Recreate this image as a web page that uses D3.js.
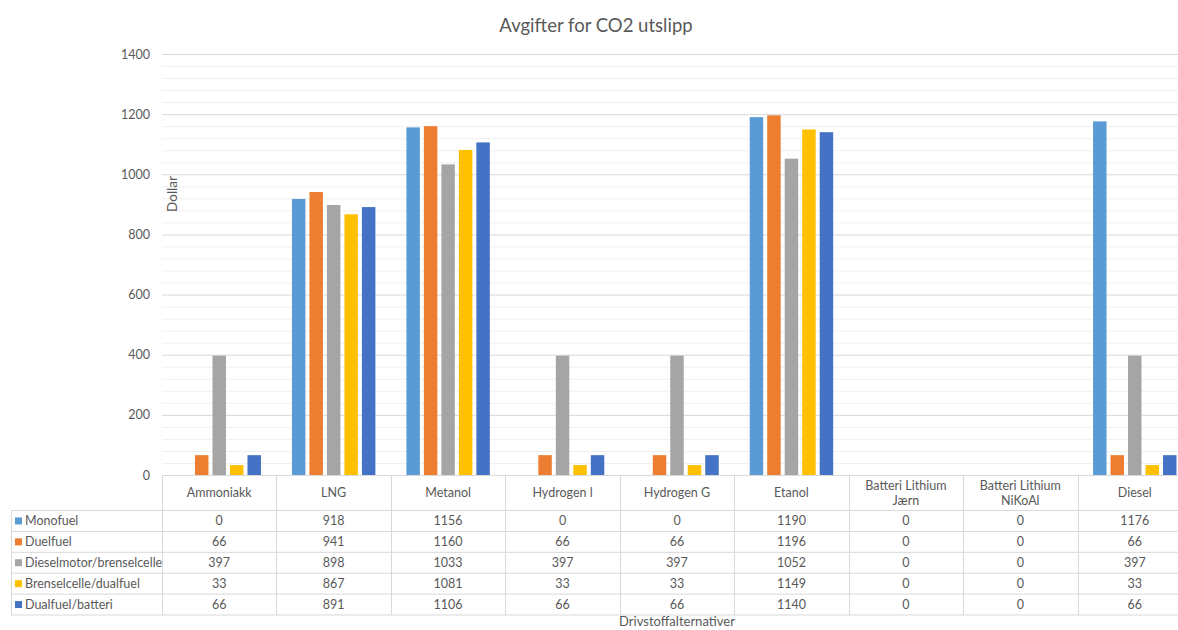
<!DOCTYPE html>
<html>
<head>
<meta charset="utf-8">
<script src="https://cdn.jsdelivr.net/npm/d3@7"></script>
<style>
  html, body { margin: 0; padding: 0; background: #fff; }
  svg { display: block; font-family: Lato, "Open Sans", sans-serif; }
</style>
</head>
<body>
<svg id="chart" width="1178" height="630"></svg>
<script>
// Fuel alternatives (x categories); "\n" splits a header label over two lines
const categories = ["Ammoniakk", "LNG", "Metanol", "Hydrogen l", "Hydrogen G", "Etanol",
                    "Batteri Lithium\nJærn", "Batteri Lithium\nNiKoAl", "Diesel"];
const seriesNames = ["Monofuel", "Duelfuel", "Dieselmotor/brenselcelle", "Brenselcelle/dualfuel", "Dualfuel/batteri"];
const monofuel   = [0, 918, 1156, 0, 0, 1190, 0, 0, 1176];
const duelfuel   = [66, 941, 1160, 66, 66, 1196, 0, 0, 66];
const dieselBren = [397, 898, 1033, 397, 397, 1052, 0, 0, 397];
const brenDual   = [33, 867, 1081, 33, 33, 1149, 0, 0, 33];
const dualBatt   = [66, 891, 1106, 66, 66, 1140, 0, 0, 66];
const seriesValues = [monofuel, duelfuel, dieselBren, brenDual, dualBatt];
const colors = ["#5B9BD5", "#ED7D31", "#A5A5A5", "#FFC000", "#4472C4"];
const yTicks = [0, 200, 400, 600, 800, 1000, 1200, 1400];

const svg = d3.select("#chart");
const textColor = "#595959";
const plot = { left: 162, right: 1192, top: 54, bottom: 475 };

const x = d3.scaleBand().domain(categories).range([plot.left, plot.right]).padding(0);
const inner = d3.scaleBand().domain(d3.range(seriesNames.length))
  .range([15.5, x.bandwidth() - 15.5]).paddingInner(0.23).paddingOuter(0);
const y = d3.scaleLinear().domain([0, 1400]).range([plot.bottom, plot.top]);

// Title
svg.append("text").attr("x", 596).attr("y", 32).attr("text-anchor", "middle")
  .attr("font-size", 18.5).attr("fill", textColor).text("Avgifter for CO2 utslipp");

// Minor and major gridlines
const minor = d3.range(40, 1400, 40).filter(v => v % 200 !== 0);
svg.append("g").selectAll("line").data(minor).join("line")
  .attr("x1", plot.left).attr("x2", 1178)
  .attr("y1", d => y(d) + 0.5).attr("y2", d => y(d) + 0.5)
  .attr("stroke", "#f0f0f0");
svg.append("g").selectAll("line").data(yTicks.filter(v => v > 0)).join("line")
  .attr("x1", plot.left).attr("x2", 1178)
  .attr("y1", d => y(d) + 0.5).attr("y2", d => y(d) + 0.5)
  .attr("stroke", "#d9d9d9");

// Y axis labels
const yAxis = svg.append("g").attr("transform", `translate(${plot.left - 12},0)`)
  .call(d3.axisLeft(y).tickValues(yTicks).tickFormat(d3.format("d")).tickSize(0).tickPadding(0));
yAxis.select(".domain").remove();
yAxis.selectAll("text").attr("fill", textColor).attr("font-size", 12.5)
  .attr("font-family", "Lato, sans-serif");

// Y axis title
svg.append("text").attr("transform", "translate(177,194) rotate(-90)")
  .attr("text-anchor", "middle").attr("font-size", 13.5).attr("fill", textColor).text("Dollar");

// Bars
const groups = svg.append("g").selectAll("g").data(categories).join("g")
  .attr("transform", d => `translate(${x(d)},0)`);
groups.selectAll("rect")
  .data((c, ci) => seriesValues.map((vals, si) => ({ si, v: vals[ci] })))
  .join("rect")
  .attr("x", d => inner(d.si))
  .attr("width", inner.bandwidth())
  .attr("y", d => y(d.v))
  .attr("height", d => y(0) - y(d.v))
  .attr("fill", d => colors[d.si]);

// Data table below the plot
const grid = "#d9d9d9";
const headerBottom = 510.5;
const rowH = 20.9;
const tableLeft = 11;
const tableBottom = headerBottom + rowH * seriesNames.length;
const tbl = svg.append("g");

// horizontal rules
tbl.append("line").attr("x1", plot.left).attr("x2", 1178)
  .attr("y1", plot.bottom + 0.5).attr("y2", plot.bottom + 0.5).attr("stroke", grid);
d3.range(seriesNames.length + 1).forEach(i => {
  const yy = headerBottom + i * rowH;
  tbl.append("line").attr("x1", tableLeft).attr("x2", 1178)
    .attr("y1", yy).attr("y2", yy).attr("stroke", grid);
});
// vertical rules
tbl.append("line").attr("x1", tableLeft + 0.5).attr("x2", tableLeft + 0.5)
  .attr("y1", headerBottom).attr("y2", tableBottom).attr("stroke", grid);
categories.forEach(c => {
  const xx = Math.round(x(c)) + 0.5;
  tbl.append("line").attr("x1", xx).attr("x2", xx)
    .attr("y1", plot.bottom).attr("y2", tableBottom).attr("stroke", grid);
});

// header labels
categories.forEach(c => {
  const lines = c.split("\n");
  const cx = x(c) + x.bandwidth() / 2;
  const cy = (plot.bottom + headerBottom) / 2;
  const t = tbl.append("text").attr("text-anchor", "middle").attr("font-size", 12.5).attr("fill", textColor);
  lines.forEach((ln, i) => {
    t.append("tspan").attr("x", cx)
      .attr("y", cy + 4.5 + (i - (lines.length - 1) / 2) * 14.5).text(ln);
  });
});

// row labels with legend keys, and cell values
seriesNames.forEach((name, si) => {
  const cy = headerBottom + si * rowH + rowH / 2;
  tbl.append("rect").attr("x", 15).attr("y", cy - 3.5).attr("width", 7).attr("height", 7).attr("fill", colors[si]);
  tbl.append("text").attr("x", 25).attr("y", cy + 4.5).attr("font-size", 12.5)
    .attr("fill", textColor).text(name);
  categories.forEach((c, ci) => {
    tbl.append("text").attr("x", x(c) + x.bandwidth() / 2).attr("y", cy + 4.5)
      .attr("text-anchor", "middle").attr("font-size", 12.5).attr("fill", textColor)
      .text(seriesValues[si][ci]);
  });
});

// X axis title
svg.append("text").attr("x", (plot.left + plot.right) / 2).attr("y", 626)
  .attr("text-anchor", "middle").attr("font-size", 13).attr("fill", textColor).text("Drivstoffalternativer");
</script>
</body>
</html>
